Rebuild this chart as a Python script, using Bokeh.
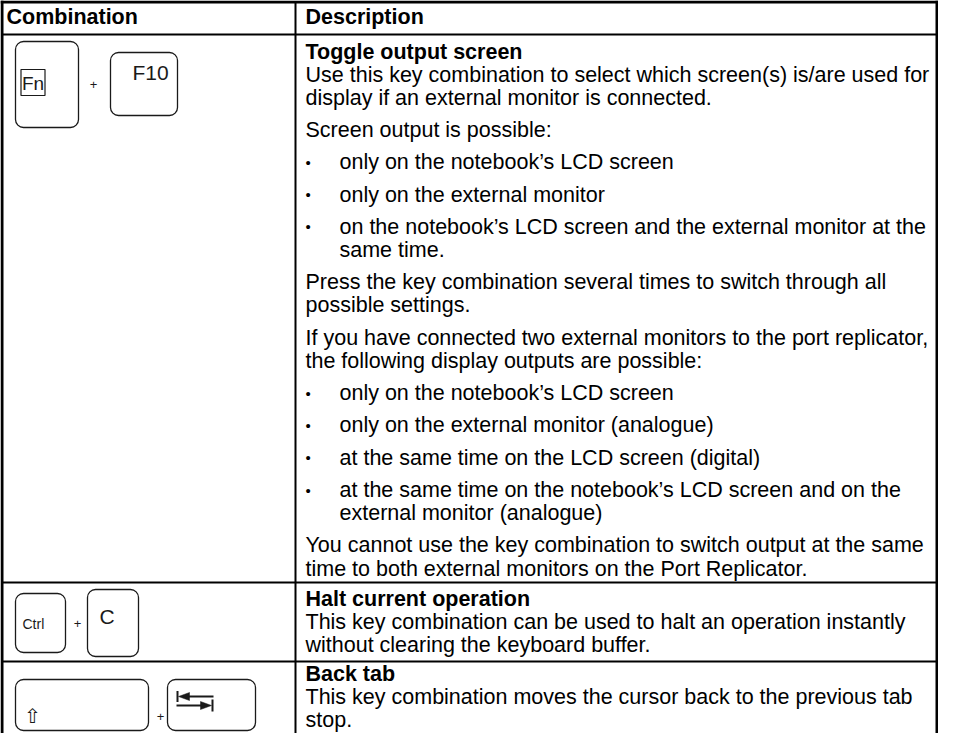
from bokeh.plotting import figure
from bokeh.models import Range1d
from bokeh.embed import file_html
from bokeh.resources import INLINE
from bokeh.core.properties import value

# ---------------- data (texts) ----------------
header_labels = ["Combination", "Description"]
row_titles = ["Toggle output screen", "Halt current operation", "Back tab"]
row1_blocks = [
    ("text", ["Use this key combination to select which screen(s) is/are used for",
              "display if an external monitor is connected."]),
    ("text", ["Screen output is possible:"]),
    ("bullet", ["only on the notebook’s LCD screen"]),
    ("bullet", ["only on the external monitor"]),
    ("bullet", ["on the notebook’s LCD screen and the external monitor at the",
                "same time."]),
    ("text", ["Press the key combination several times to switch through all",
              "possible settings."]),
    ("text", ["If you have connected two external monitors to the port replicator,",
              "the following display outputs are possible:"]),
    ("bullet", ["only on the notebook’s LCD screen"]),
    ("bullet", ["only on the external monitor (analogue)"]),
    ("bullet", ["at the same time on the LCD screen (digital)"]),
    ("bullet", ["at the same time on the notebook’s LCD screen and on the",
                "external monitor (analogue)"]),
    ("text", ["You cannot use the key combination to switch output at the same",
              "time to both external monitors on the Port Replicator."]),
]
row2_blocks = [
    ("text", ["This key combination can be used to halt an operation instantly",
              "without clearing the keyboard buffer."]),
]
row3_blocks = [
    ("text", ["This key combination moves the cursor back to the previous tab",
              "stop."]),
]
row_blocks = [row1_blocks, row2_blocks, row3_blocks]
key_labels = [["Fn", "F10"], ["Ctrl", "C"], ["⇧", ""]]
plus_label = "+"
bullet_char = "•"

# ---------------- layout / style ----------------
W, H = 938, 733
FONT = value("Liberation Sans")
FS = 21.5
LINE = 23.1
GAP = 9.2
X_L, X_DIV, X_R = 1.5, 295.0, 936.5
Y_T, Y_HEAD = 1.5, 34.0
TXT_X = 305.0
BUL_X = 305.0
BUL_TXT_X = 339.0
ROW_FIRST = [17.0, 16.0, 12.0]
ROW_PAD = [14.0, 16.8, 14.0]
INK = "#1a1a1a"

p = figure(width=W, height=H, x_range=Range1d(0, W), y_range=Range1d(H, 0),
           output_backend="svg", toolbar_location=None,
           x_axis_type=None, y_axis_type=None, min_border=0,
           outline_line_color=None, background_fill_color="white",
           border_fill_color="white")
p.grid.visible = False

reg = dict(x=[], y=[], text=[])
bold = dict(x=[], y=[], text=[])
buls = dict(x=[], y=[], text=[])

# header
bold["x"] += [6.0, TXT_X]
bold["y"] += [16.5, 16.5]
bold["text"] += header_labels

row_tops = []
row_bottoms = []
top = Y_HEAD
for r, blocks in enumerate(row_blocks):
    row_tops.append(top)
    y = top + ROW_FIRST[r]
    bold["x"].append(TXT_X); bold["y"].append(y); bold["text"].append(row_titles[r])
    first = True
    for kind, lines in blocks:
        if not first:
            y += GAP
        for i, ln in enumerate(lines):
            y += LINE
            if kind == "bullet":
                if i == 0:
                    buls["x"].append(BUL_X); buls["y"].append(y); buls["text"].append(bullet_char)
                reg["x"].append(BUL_TXT_X)
            else:
                reg["x"].append(TXT_X)
            reg["y"].append(y); reg["text"].append(ln)
        first = False
    bottom = y + ROW_PAD[r]
    row_bottoms.append(bottom)
    top = bottom

# ---------------- table rules ----------------
p.segment(x0=[X_L, X_R, X_DIV], y0=[0, 0, Y_T], x1=[X_L, X_R, X_DIV], y1=[H + 5, H + 5, H + 5],
          line_color="black", line_width=[3.0, 3.0, 2.0])
p.segment(x0=[0], y0=[Y_T], x1=[W], y1=[Y_T], line_color="black", line_width=3.0)
hy = [Y_HEAD] + row_bottoms[:-1]
p.segment(x0=[X_L] * len(hy), y0=hy, x1=[X_R] * len(hy), y1=hy, line_color="black", line_width=2.2)

# ---------------- keys ----------------
# (row, left, right, top offset, bottom offset)
keys = [
    (0, 15, 78, 7, 93),
    (0, 110, 177, 18, 81),
    (1, 15, 65, 11, 70),
    (1, 87, 138, 7, 74),
    (2, 15, 148, 18, 69),
    (2, 167, 255, 18, 69),
]
p.quad(left=[k[1] for k in keys], right=[k[2] for k in keys],
       top=[row_tops[k[0]] + k[3] for k in keys],
       bottom=[row_tops[k[0]] + k[4] for k in keys],
       border_radius=8, fill_color="white", line_color=INK, line_width=1.3)

# Fn label box
p.quad(left=[20.5], right=[44.5], top=[row_tops[0] + 35], bottom=[row_tops[0] + 61],
       fill_color=None, line_color=INK, line_width=1.2)

# key labels
p.text(x=[32.5], y=[row_tops[0] + 48.5], text=[key_labels[0][0]], text_font=FONT,
       text_font_size="19px", text_align="center", text_baseline="middle", text_color=INK)
p.text(x=[132, 99], y=[row_tops[0] + 38, row_tops[1] + 34], text=[key_labels[0][1], key_labels[1][1]],
       text_font=FONT, text_font_size="21px", text_baseline="middle", text_color=INK)
p.text(x=[22], y=[row_tops[1] + 41], text=[key_labels[1][0]], text_font=FONT, text_font_size="14px",
       text_baseline="middle", text_color=INK)
p.text(x=[23.5], y=[row_tops[2] + 54], text=[key_labels[2][0]], text_font=value("DejaVu Sans"),
       text_font_size="20px", text_baseline="middle", text_color=INK)
# plus signs
p.text(x=[93, 77, 160], y=[row_tops[0] + 50, row_tops[1] + 41, row_tops[2] + 55],
       text=[plus_label] * 3, text_font=FONT, text_font_size="13px", text_align="center",
       text_baseline="middle", text_color=INK)

# tab arrows icon inside the tab key
tx0, tx1 = 177.0, 212.0
ya = row_tops[2] + 35.0
yb = ya + 9.0
p.segment(x0=[tx0, tx0 + 10, tx0 - 1, tx1], y0=[ya - 5.5, ya, yb, yb - 6],
          x1=[tx0, tx1 + 1, tx1 - 10, tx1], y1=[ya + 5.5, ya, yb, yb + 6],
          line_color=INK, line_width=2.0)
p.patches(xs=[[tx0 + 1, tx0 + 12, tx0 + 12], [tx1 - 1, tx1 - 12, tx1 - 12]],
          ys=[[ya, ya - 4, ya + 4], [yb, yb - 4, yb + 4]],
          fill_color=INK, line_color=INK, line_width=0.5)

# ---------------- texts ----------------
p.text(x="x", y="y", text="text", source=reg, text_font=FONT, text_font_size=f"{FS}px",
       text_baseline="middle", text_color="black")
p.text(x="x", y="y", text="text", source=bold, text_font=FONT, text_font_size=f"{FS}px",
       text_font_style="bold", text_baseline="middle", text_color="black")
p.text(x="x", y="y", text="text", source=buls, text_font=FONT, text_font_size="15px",
       text_baseline="middle", text_color="black")

open("out.html", "w").write(file_html(p, INLINE))
